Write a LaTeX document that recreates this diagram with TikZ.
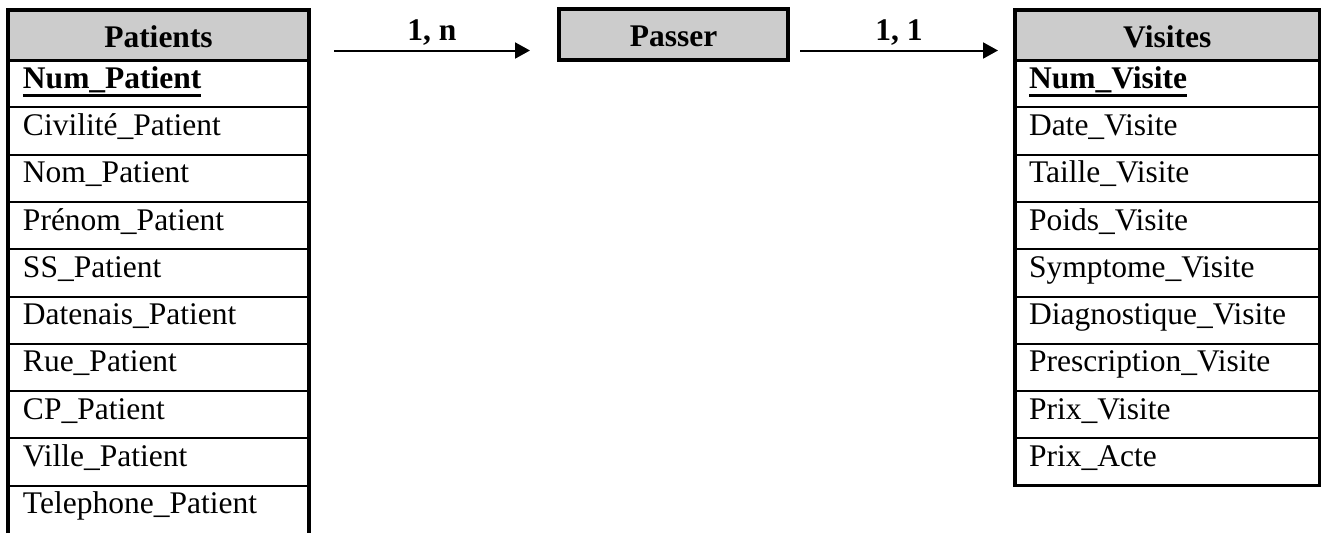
\documentclass[tikz,border=0pt]{standalone}
\usepackage{fontspec}
\setmainfont{Liberation Serif}
\usetikzlibrary{arrows.meta}
\definecolor{headgray}{RGB}{204,204,204}
% bold key attribute with a heavy underline
\newcommand\keyfield[1]{\setbox0\hbox{\bfseries #1}\rlap{\rule[-9pt]{\wd0}{3pt}}\box0}
\begin{document}
\begin{tikzpicture}[x=1pt,y=-1pt,
  txt/.style={font=\fontsize{31.5}{36}\selectfont, inner ysep=0pt, outer sep=0pt},
  pcell/.style={txt, anchor=north west, text width=271pt, inner xsep=15pt,
    minimum height=47.3pt, text height=22pt, text depth=13pt, align=left},
  vcell/.style={txt, anchor=north west, text width=276.5pt, inner xsep=14pt,
    minimum height=47.3pt, text height=22pt, text depth=13pt, align=left},
  head/.style={txt, font=\fontsize{31.5}{36}\selectfont\bfseries, anchor=north west,
    fill=headgray, inner xsep=0pt, minimum height=50pt, text height=24pt,
    text depth=0pt, align=center},
  sep/.style={line width=2pt},
  hsep/.style={line width=3pt},
  outer/.style={line width=3.5pt, line join=miter},
  conn/.style={line width=2pt, -{Triangle[length=15pt,width=16pt]}},
  card/.style={txt, font=\fontsize{31.5}{36}\selectfont\bfseries, inner sep=0pt,
    text depth=0pt, above=10pt}]
\useasboundingbox (0,0) rectangle (1322,533);

% --- entity Patients ---
\node[head, minimum width=301pt] (ph) at (8,10) {Patients};
\node[pcell] (p1) at (8,60) {\keyfield{Num\_Patient}};
\foreach \t [count=\i from 2] in {Civilité\_Patient, Nom\_Patient, Prénom\_Patient,
    SS\_Patient, Datenais\_Patient, Rue\_Patient, CP\_Patient, Ville\_Patient,
    Telephone\_Patient}
  \node[pcell] (p\i) at (8,{60+47.3*(\i-1)}) {\t};
\foreach \i in {1,...,9}
  \draw[sep] (p\i.south west) -- (p\i.south east);
\draw[hsep] (ph.south west) -- (ph.south east);
\draw[outer] (p10.south west) -- (ph.north west) -- (ph.north east) -- (p10.south east);

% --- entity Visites ---
\node[head, minimum width=304.5pt] (vh) at (1015,10) {Visites};
\node[vcell] (v1) at (1015,60) {\keyfield{Num\_Visite}};
\foreach \t [count=\i from 2] in {Date\_Visite, Taille\_Visite, Poids\_Visite,
    Symptome\_Visite, Diagnostique\_Visite, Prescription\_Visite, Prix\_Visite,
    Prix\_Acte}
  \node[vcell] (v\i) at (1015,{60+47.3*(\i-1)}) {\t};
\foreach \i in {1,...,8}
  \draw[sep] (v\i.south west) -- (v\i.south east);
\draw[hsep] (vh.south west) -- (vh.south east);
\draw[outer] (vh.north west) rectangle (v9.south east);

% --- association Passer ---
\node[head, anchor=center, draw, line width=4pt, minimum width=229pt,
  minimum height=51pt] (passer) at (673.5,34.5) {Passer};

% --- cardinality arrows ---
\coordinate (a1s) at (334,50.5);
\coordinate (a1e) at (530,50.5);
\coordinate (a2s) at (800,50.5);
\coordinate (a2e) at (998,50.5);
\draw[conn] (a1s) -- node[card] {1, n} (a1e);
\draw[conn] (a2s) -- node[card] {1, 1} (a2e);
\end{tikzpicture}
\end{document}
